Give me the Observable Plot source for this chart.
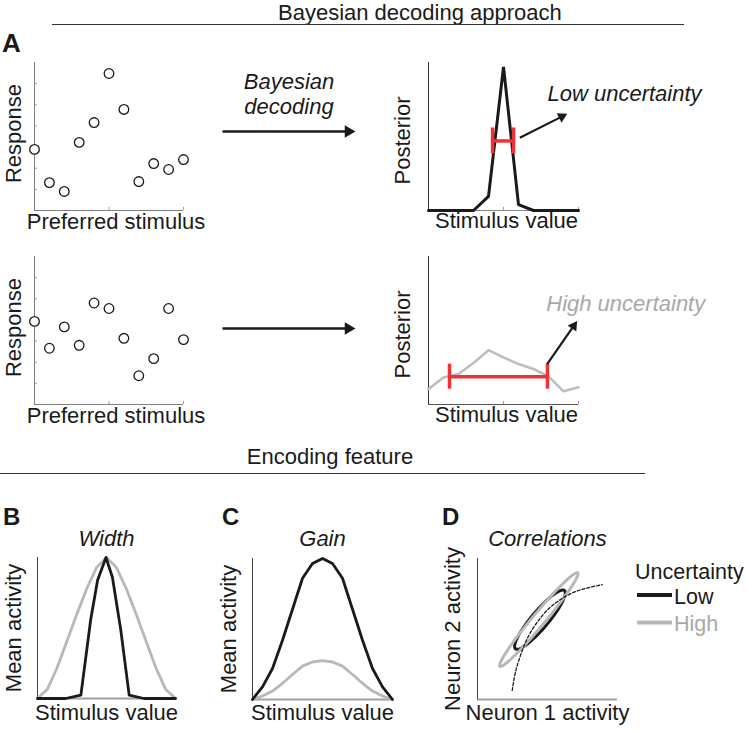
<!DOCTYPE html>
<html>
<head>
<meta charset="utf-8">
<script src="https://cdn.jsdelivr.net/npm/d3@7"></script>
<script src="https://cdn.jsdelivr.net/npm/@observablehq/plot@0.6"></script>
<style>
html, body { margin: 0; padding: 0; background: #fff; }
#fig { position: relative; width: 746px; height: 732px; overflow: hidden; background: #fff; }
#fig svg { background: transparent !important; overflow: visible !important; max-width: none !important; }
</style>
</head>
<body>
<div id="fig"></div>
<script>
// ---------------- data ----------------
const preferredStimulus = [0, 1, 2, 3, 4, 5, 6, 7, 8, 9, 10];
const responseLowUnc  = [2.89, 1.32, 0.90, 3.22, 4.16, 6.48, 4.78, 1.37, 2.22, 1.94, 2.41];
const responseHighUnc = [3.93, 2.66, 3.67, 2.80, 4.80, 4.54, 3.13, 1.36, 2.17, 4.54, 3.07];
const responseTicks = [1, 2, 3, 4, 5, 6];
const preferredTicks = [5, 10];

const stimulusValue = [0, 1, 2, 3, 4, 5, 6, 7, 8, 9, 10];
const posteriorLowUnc  = [0, 0, 0, 0, 0.095, 0.97, 0.04, 0, 0, 0, 0];
const posteriorHighUnc = [0.105, 0.183, 0.206, 0.280, 0.367, 0.318, 0.273, 0.240, 0.190, 0.089, 0.116];
const stimulusTicks = [5, 10];
const credibleLowUnc  = [4.27, 5.67];
const credibleLowLevel = 0.47;
const credibleHighUnc = [1.4, 7.93];
const credibleHighLevel = 0.188;
const pointerLowUnc  = [6.09, 0.491, 9.25, 0.653];   // x1, y1, x2, y2
const pointerHighUnc = [7.91, 0.273, 9.91, 0.564];
const labelLowUnc  = ["Low uncertainty", 7.93, 0.79];
const labelHighUnc = ["High uncertainty", 7.85, 0.681];

const decodingArrow = [0, 0, 1, 0];

const stimulusGrid = [0, 1, 2, 3, 4, 5, 6, 7, 8, 9, 10, 11, 12, 13, 14];
const widthLowUncX = [0, 2.85, 4.4, 5.4, 6.1, 6.95, 7.6, 8.45, 9.3, 10.8, 14];
const widthLowUncY = [0, 0, 0.024, 0.56, 0.84, 1, 0.86, 0.485, 0.024, 0, 0];
const widthHighUnc = [0, 0.065, 0.22, 0.41, 0.6, 0.78, 0.93, 1, 0.93, 0.78, 0.6, 0.41, 0.22, 0.065, 0];
const gainLowUnc  = [0, 0.09, 0.22, 0.42, 0.64, 0.86, 0.965, 1, 0.965, 0.86, 0.64, 0.42, 0.22, 0.09, 0];
const gainHighUnc = [0, 0.025, 0.06, 0.115, 0.177, 0.237, 0.266, 0.276, 0.266, 0.237, 0.177, 0.115, 0.06, 0.025, 0];

const ellipseLevel = ["Low", "High"];
const ellipseCx = [4.46, 4.38];
const ellipseCy = [5.66, 5.67];
const ellipseHalfMajor = [2.71, 4.33];
const ellipseHalfMinor = [0.6, 0.45];
const ellipseAngleDeg = [49.7, 50];
const signalCurveX = [2.48, 2.71, 3.07, 3.55, 4.26, 5.21, 6.41, 7.59, 8.91];
const signalCurveY = [0.64, 1.94, 3.12, 4.31, 5.48, 6.55, 7.38, 7.85, 8.14];

const legendLevels = ["Low", "High"];

// ---------------- style ----------------
const FONT = '"Liberation Sans", Arial, Helvetica, sans-serif';
const INK = "#1a1a1a", GREY = "#b8b8b8", RED = "#ee3338", AXIS = "#808080";
const FS = 22;

const fig = document.getElementById("fig");
function place(node, left, top) {
  node.style.position = "absolute";
  node.style.left = left + "px";
  node.style.top = top + "px";
  fig.appendChild(node);
  return node;
}
function panel(frame, pad, opts) {
  const [x0, x1, y0, y1] = frame, [pt, pr, pb, pl] = pad;
  const chart = Plot.plot({
    width: x1 - x0 + pl + pr, height: y1 - y0 + pt + pb,
    marginTop: pt, marginRight: pr, marginBottom: pb, marginLeft: pl,
    style: {fontFamily: FONT, background: "transparent", overflow: "visible"},
    ...opts
  });
  return place(chart, x0 - pl, y0 - pt);
}
const label = (t, o) => Plot.text([t], {text: d => d, fontSize: FS, fill: INK, textAnchor: "middle", ...o});

function arrowMarks(p, sx, sy, r, w, color) {
  const dx = (p[2] - p[0]) * sx, dy = -(p[3] - p[1]) * sy;
  const L = Math.hypot(dx, dy), ux = dx / L, uy = dy / L;
  const back = 1.555 * r, lineBack = 2.0 * r;
  const cx = p[2] - ux * back / sx, cy = p[3] + uy * back / sy;
  const lx = p[2] - ux * lineBack / sx, ly = p[3] + uy * lineBack / sy;
  const angle = Math.atan2(dy, dx) * 180 / Math.PI + 90;
  return [
    Plot.link([p], {x1: d => d[0], y1: d => d[1], x2: () => lx, y2: () => ly, stroke: color, strokeWidth: w}),
    Plot.dot([p], {x: () => cx, y: () => cy, symbol: "triangle", r, rotate: angle, fill: color, stroke: "none"})
  ];
}

// ---------------- A: population responses ----------------
function scatterPanel(y0, responses) {
  const frame = [34, 183, y0, y0 + 148];
  const sx = 149 / 10, sy = 148 / 7;
  const data = preferredStimulus.map((s, i) => ({s, r: responses[i]}));
  panel(frame, [12, 36, 40, 34], {
    x: {domain: [0, 10], axis: null},
    y: {domain: [0, 7], axis: null},
    marks: [
      Plot.ruleY(responseTicks, {x1: 0, x2: 3 / sx, stroke: "#a0a0a0"}),
      Plot.ruleX(preferredTicks, {y1: 0, y2: 3 / sy, stroke: "#a0a0a0"}),
      Plot.ruleX([0], {stroke: AXIS}),
      Plot.ruleY([0], {stroke: AXIS}),
      Plot.dot(data, {x: "s", y: "r", r: 4.8, fill: "white", stroke: INK, strokeWidth: 1.3}),
      label("Preferred stimulus", {frameAnchor: "bottom", dy: 18, dx: 7}),
      label("Response", {frameAnchor: "left", rotate: -90, dx: -21, dy: -3})
    ]
  });
}
scatterPanel(62, responseLowUnc);
scatterPanel(256, responseHighUnc);

// ---------------- A: decoding arrows ----------------
function decodingPanel(yArrow, withText) {
  const frame = [222, 355, yArrow - 70, yArrow];
  panel(frame, [0, 10, 10, 0], {
    x: {domain: [0, 1], axis: null},
    y: {domain: [0, 1], axis: null},
    marks: [
      ...arrowMarks(decodingArrow, 133, 70, 4.6, 2.6, INK),
      withText ? label("Bayesian\ndecoding", {frameAnchor: "middle", dy: -3, lineHeight: 1.14, fontStyle: "italic"}) : null
    ]
  });
}
decodingPanel(131, true);
decodingPanel(328, false);

// ---------------- A: posteriors ----------------
function posteriorPanel(y0, values, color, sw, interval, level, halfBar, pointer, lab, labColor, xAxisColor) {
  const frame = [428, 578, y0, y0 + 148];
  const sx = 150 / 10, sy = 148;
  const data = stimulusValue.map((s, i) => ({s, p: values[i]}));
  panel(frame, [12, 150, 40, 40], {
    x: {domain: [0, 10], axis: null},
    y: {domain: [0, 1], axis: null},
    marks: [
      Plot.ruleY([0], {stroke: xAxisColor, strokeWidth: 1.2}),
      Plot.ruleX(stimulusTicks, {y1: 0, y2: 3 / sy, stroke: "#a0a0a0"}),
      Plot.ruleX([0], {stroke: "#333"}),
      Plot.line(data, {x: "s", y: "p", stroke: color, strokeWidth: sw, strokeLinejoin: "miter"}),
      Plot.ruleY([level], {x1: interval[0], x2: interval[1], stroke: RED, strokeWidth: 3.5}),
      Plot.ruleX(interval, {y1: level - halfBar / sy, y2: level + halfBar / sy, stroke: RED, strokeWidth: 3.5}),
      ...arrowMarks(pointer, sx, sy, 3.9, 2.2, INK),
      Plot.text([lab], {x: d => d[1], y: d => d[2], text: d => d[0], textAnchor: "start", fontStyle: "italic", fontSize: FS, fill: labColor}),
      label("Stimulus value", {frameAnchor: "bottom", dy: 17, dx: 3}),
      label("Posterior", {frameAnchor: "left", rotate: -90, dx: -26, dy: 4})
    ]
  });
}
posteriorPanel(62, posteriorLowUnc, INK, 3, credibleLowUnc, credibleLowLevel, 13, pointerLowUnc, labelLowUnc, INK, "#888");
posteriorPanel(256, posteriorHighUnc, "#bdbdbd", 2.6, credibleHighUnc, credibleHighLevel, 12.5, pointerHighUnc, labelHighUnc, "#a8a8a8", "#555");

// ---------------- B: width ----------------
panel([37, 175, 557, 698], [45, 20, 35, 37], {
  x: {domain: [0, 14], axis: null},
  y: {domain: [0, 1], axis: null},
  marks: [
    Plot.ruleY([0], {stroke: "#a0a0a0", strokeWidth: 2}),
    Plot.ruleX([0], {stroke: "#444"}),
    Plot.line(stimulusGrid.map((s, i) => ({s, v: widthHighUnc[i]})), {x: "s", y: "v", stroke: GREY, strokeWidth: 2.8}),
    Plot.line(widthLowUncX.map((s, i) => ({s, v: widthLowUncY[i]})), {x: "s", y: "v", stroke: INK, strokeWidth: 2.8}),
    label("Width", {frameAnchor: "top", dy: -27, fontStyle: "italic"}),
    label("Stimulus value", {frameAnchor: "bottom", dy: 21}),
    label("Mean activity", {frameAnchor: "left", rotate: -90, dx: -24})
  ]
});

// ---------------- C: gain ----------------
panel([252, 392, 558, 699], [45, 20, 35, 37], {
  x: {domain: [0, 14], axis: null},
  y: {domain: [0, 1], axis: null},
  marks: [
    Plot.ruleY([0], {stroke: "#a0a0a0", strokeWidth: 2}),
    Plot.ruleX([0], {stroke: "#444"}),
    Plot.line(stimulusGrid.map((s, i) => ({s, v: gainHighUnc[i]})), {x: "s", y: "v", stroke: GREY, strokeWidth: 2.8}),
    Plot.line(stimulusGrid.map((s, i) => ({s, v: gainLowUnc[i]})), {x: "s", y: "v", stroke: INK, strokeWidth: 2.8}),
    label("Gain", {frameAnchor: "top", dy: -28, fontStyle: "italic"}),
    label("Stimulus value", {frameAnchor: "bottom", dy: 20}),
    label("Mean activity", {frameAnchor: "left", rotate: -90, dx: -24})
  ]
});

// ---------------- D: correlations ----------------
function ellipsePoints(i) {
  const a = ellipseAngleDeg[i] * Math.PI / 180;
  return d3.range(0, 361, 4).map(t => {
    const r = t * Math.PI / 180;
    const u = ellipseHalfMajor[i] * Math.cos(r), v = ellipseHalfMinor[i] * Math.sin(r);
    return {x: ellipseCx[i] + u * Math.cos(a) - v * Math.sin(a), y: ellipseCy[i] + u * Math.sin(a) + v * Math.cos(a)};
  });
}
panel([477, 617, 558, 699], [45, 20, 35, 37], {
  x: {domain: [0, 10], axis: null},
  y: {domain: [0, 10], axis: null},
  marks: [
    Plot.ruleY([0], {stroke: "#a0a0a0", strokeWidth: 2}),
    Plot.ruleX([0], {stroke: "#444"}),
    Plot.line(ellipsePoints(0), {x: "x", y: "y", stroke: INK, strokeWidth: 3}),
    Plot.line(ellipsePoints(1), {x: "x", y: "y", stroke: GREY, strokeWidth: 3}),
    Plot.line(signalCurveX.map((x, i) => ({x, y: signalCurveY[i]})), {x: "x", y: "y", curve: "catmull-rom", stroke: INK, strokeWidth: 1.3, strokeDasharray: "3,2"}),
    label("Correlations", {frameAnchor: "top", dy: -28, fontStyle: "italic"}),
    label("Neuron 1 activity", {frameAnchor: "bottom", dy: 20}),
    label("Neuron 2 activity", {frameAnchor: "left", rotate: -90, dx: -25})
  ]
});

// ---------------- headers, letters, legend ----------------
const ov = d3.create("svg").attr("width", 746).attr("height", 732)
  .style("font-family", FONT).style("pointer-events", "none");
ov.append("text").attr("x", 278).attr("y", 19.5).attr("font-size", FS).attr("fill", INK).text("Bayesian decoding approach");
ov.append("line").attr("x1", 52).attr("x2", 684).attr("y1", 24.5).attr("y2", 24.5).attr("stroke", "#333");
ov.append("text").attr("x", 330).attr("y", 464).attr("text-anchor", "middle").attr("font-size", FS).attr("fill", INK).text("Encoding feature");
ov.append("line").attr("x1", 0).attr("x2", 645).attr("y1", 473.5).attr("y2", 473.5).attr("stroke", "#333");
[["A", 2, 52, 26], ["B", 3, 525, 24], ["C", 222, 525, 24], ["D", 442, 525, 24]].forEach(([t, x, y, s]) =>
  ov.append("text").attr("x", x).attr("y", y).attr("font-size", s).attr("font-weight", "bold").attr("fill", INK).text(t));
ov.append("text").attr("x", 635).attr("y", 578.5).attr("font-size", 21.5).attr("fill", INK).text("Uncertainty");
legendLevels.forEach((lv, i) => {
  const y = 595 + i * 27.5, c = i === 0 ? INK : GREY, tc = i === 0 ? INK : "#a8a8a8";
  ov.append("line").attr("x1", 637).attr("x2", 672).attr("y1", y).attr("y2", y).attr("stroke", c).attr("stroke-width", 4);
  ov.append("text").attr("x", 674).attr("y", y + 8.5).attr("font-size", 21.5).attr("fill", tc).text(lv);
});
place(ov.node(), 0, 0);
</script>
</body>
</html>
